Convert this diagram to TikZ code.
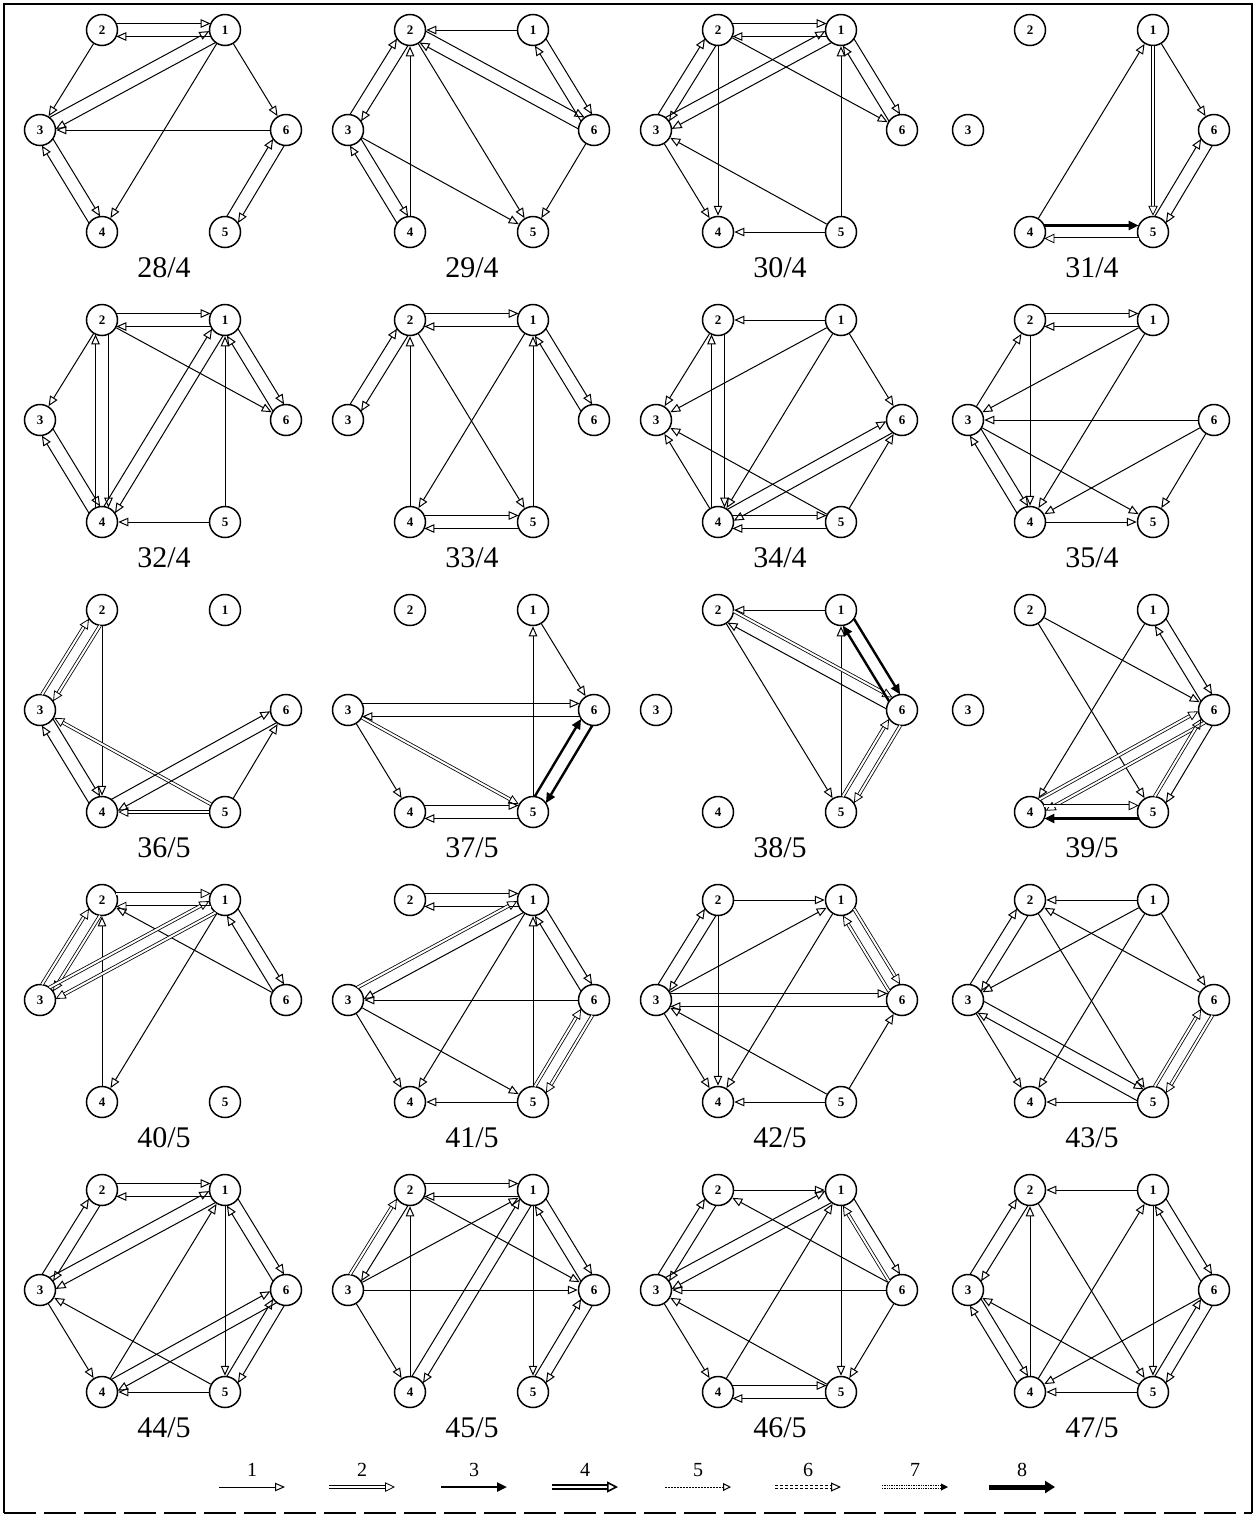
\documentclass[tikz,border=0pt]{standalone}
\usepackage{fontspec}
\setmainfont{Liberation Serif}
\usetikzlibrary{arrows.meta,calc}

\tikzset{
  vtx/.style={draw=black,fill=white,circle,line width=1.5pt,minimum size=31pt,inner sep=0pt,
    font=\bfseries\fontsize{13}{13}\selectfont},
  glabel/.style={font=\fontsize{30}{30}\selectfont},
  legnum/.style={font=\fontsize{20}{20}\selectfont},
  e1/.style={draw=black,line width=1pt,-{Triangle[open,length=10pt,width=8.5pt]}},
  e2/.style={draw=black,line width=0.8pt,double=white,double distance=2pt,-{Triangle[open,length=10pt,width=9.5pt]}},
  e3/.style={draw=black,line width=2.4pt,-{Triangle[length=10pt,width=9pt]}},
  e4/.style={draw=black,line width=1.6pt,double=white,double distance=2.4pt,-{Triangle[open,length=11pt,width=11pt]}},
  e5/.style={draw=black,line width=1pt,dash pattern=on 1.5pt off 1.5pt,-{Triangle[open,length=8pt,width=8pt]}},
  e6/.style={draw=black,line width=1pt,double=white,double distance=2pt,dash pattern=on 3pt off 2pt,-{Triangle[open,length=10pt,width=9pt]}},
  e7/.style={draw=black,line width=1pt,double=white,double distance=1.8pt,dash pattern=on 1pt off 0.7pt,-{Triangle[length=7pt,width=7pt]}},
  e8/.style={draw=black,line width=5pt,-{Triangle[length=10pt,width=12pt]}}
}

% six vertices of one graph, #1 name, (#2,#3) place of vertex 2, #4 caption
\newcommand{\hexgraph}[4]{%
  \begin{scope}[shift={(#2,#3)}]
    \node[vtx] (#1-2) at (0,0) {2};
    \node[vtx] (#1-1) at (123,0) {1};
    \node[vtx] (#1-3) at (-62,-100) {3};
    \node[vtx] (#1-6) at (184,-100) {6};
    \node[vtx] (#1-4) at (0,-202) {4};
    \node[vtx] (#1-5) at (123,-202) {5};
    \node[glabel] (#1-t) at (62,-238) {#4};
  \end{scope}}
% single edge, and one edge of a two-way pair (moved to its left)
\newcommand{\sedge}[3][e1]{\path[#1] (#2) -- (#3);}
\newcommand{\pedge}[3][e1]{\path[#1,shorten <=14.3pt,shorten >=14.3pt]
  ($(#2)!6.5pt!90:(#3)$) -- ($(#3)!6.5pt!-90:(#2)$);}

\begin{document}
\begin{tikzpicture}[x=1pt,y=1pt]
\useasboundingbox (0,0) rectangle (1256,-1519);
% frame:
\path[draw=black,line width=1.6pt] (4,-1513) -- (4,-4) -- (1252,-4) -- (1252,-1513);
\path[draw=black,line width=1.6pt,dash pattern=on 32pt off 8pt] (4,-1513) -- (1252,-1513);

% graph 28/4:
\hexgraph{g28}{102}{-30}{28/4}
\foreach \p/\q in {2/3,6/3,1/6,1/4} {\sedge{g28-\p}{g28-\q}}
\foreach \p/\q in {2/1,1/2,3/1,1/3,3/4,4/3,5/6,6/5} {\pedge{g28-\p}{g28-\q}}

% graph 29/4:
\hexgraph{g29}{410}{-30}{29/4}
\foreach \p/\q in {1/2,2/5,4/2,3/5,6/5} {\sedge{g29-\p}{g29-\q}}
\foreach \p/\q in {2/6,6/2,1/6,6/1,3/2,2/3,3/4,4/3} {\pedge{g29-\p}{g29-\q}}

% graph 30/4:
\hexgraph{g30}{718}{-30}{30/4}
\foreach \p/\q in {2/6,2/4,3/4,5/3,5/1,5/4} {\sedge{g30-\p}{g30-\q}}
\foreach \p/\q in {2/1,1/2,3/1,1/3,1/6,6/1,3/2,2/3} {\pedge{g30-\p}{g30-\q}}

% graph 31/4:
\hexgraph{g31}{1030}{-30}{31/4}
\foreach \p/\q in {4/1,1/6} {\sedge{g31-\p}{g31-\q}}
\sedge[e2]{g31-1}{g31-5}
\foreach \p/\q in {5/6,6/5} {\pedge{g31-\p}{g31-\q}}
\pedge[e3]{g31-4}{g31-5}
\pedge[e2]{g31-5}{g31-4}

% graph 32/4:
\hexgraph{g32}{102}{-320}{32/4}
\foreach \p/\q in {2/6,2/3,5/1,5/4} {\sedge{g32-\p}{g32-\q}}
\foreach \p/\q in {2/1,1/2,1/6,6/1,3/4,4/3,2/4,4/2,1/4,4/1} {\pedge{g32-\p}{g32-\q}}

% graph 33/4:
\hexgraph{g33}{410}{-320}{33/4}
\foreach \p/\q in {4/2,2/5,1/4,5/1} {\sedge{g33-\p}{g33-\q}}
\foreach \p/\q in {2/1,1/2,3/2,2/3,4/5,5/4,1/6,6/1} {\pedge{g33-\p}{g33-\q}}

% graph 34/4:
\hexgraph{g34}{718}{-320}{34/4}
\foreach \p/\q in {1/2,1/3,1/4,1/6,2/3,4/3,5/3,5/6} {\sedge{g34-\p}{g34-\q}}
\foreach \p/\q in {2/4,4/2,4/5,5/4,4/6,6/4} {\pedge{g34-\p}{g34-\q}}

% graph 35/4:
\hexgraph{g35}{1030}{-320}{35/4}
\foreach \p/\q in {1/3,3/2,1/4,2/4,6/3,6/4,6/5,3/5,4/5} {\sedge{g35-\p}{g35-\q}}
\foreach \p/\q in {2/1,1/2,3/4,4/3} {\pedge{g35-\p}{g35-\q}}

% graph 36/5:
\hexgraph{g36}{102}{-610}{36/5}
\foreach \p/\q in {2/4,5/6} {\sedge{g36-\p}{g36-\q}}
\foreach \p/\q in {5/3,5/4} {\sedge[e2]{g36-\p}{g36-\q}}
\foreach \p/\q in {3/2,2/3} {\pedge[e2]{g36-\p}{g36-\q}}
\foreach \p/\q in {3/4,4/3,4/6,6/4} {\pedge{g36-\p}{g36-\q}}

% graph 37/5:
\hexgraph{g37}{410}{-610}{37/5}
\foreach \p/\q in {5/1,1/6,3/4} {\sedge{g37-\p}{g37-\q}}
\sedge[e2]{g37-3}{g37-5}
\foreach \p/\q in {3/6,6/3,4/5,5/4} {\pedge{g37-\p}{g37-\q}}
\foreach \p/\q in {5/6,6/5} {\pedge[e3]{g37-\p}{g37-\q}}

% graph 38/5:
\hexgraph{g38}{718}{-610}{38/5}
\foreach \p/\q in {1/2,2/5,5/1} {\sedge{g38-\p}{g38-\q}}
\pedge[e2]{g38-2}{g38-6}
\pedge{g38-6}{g38-2}
\foreach \p/\q in {1/6,6/1} {\pedge[e3]{g38-\p}{g38-\q}}
\foreach \p/\q in {5/6,6/5} {\pedge[e2]{g38-\p}{g38-\q}}

% graph 39/5:
\hexgraph{g39}{1030}{-610}{39/5}
\foreach \p/\q in {2/6,2/5,1/4} {\sedge{g39-\p}{g39-\q}}
\foreach \p/\q in {1/6,6/1,6/5} {\pedge{g39-\p}{g39-\q}}
\foreach \p/\q in {4/6,6/4,5/6,4/5} {\pedge[e2]{g39-\p}{g39-\q}}
\pedge[e3]{g39-5}{g39-4}

% graph 40/5:
\hexgraph{g40}{102}{-900}{40/5}
\foreach \p/\q in {4/2,1/4,6/2} {\sedge{g40-\p}{g40-\q}}
\foreach \p/\q in {2/1,1/2,3/2,2/3,3/1,1/3} {\pedge[e2]{g40-\p}{g40-\q}}
\foreach \p/\q in {1/6,6/1} {\pedge{g40-\p}{g40-\q}}

% graph 41/5:
\hexgraph{g41}{410}{-900}{41/5}
\foreach \p/\q in {1/4,5/1,6/3,3/5,3/4,5/4} {\sedge{g41-\p}{g41-\q}}
\foreach \p/\q in {2/1,1/2,1/3,1/6,6/1} {\pedge{g41-\p}{g41-\q}}
\foreach \p/\q in {3/1,5/6,6/5} {\pedge[e2]{g41-\p}{g41-\q}}

% graph 42/5:
\hexgraph{g42}{718}{-900}{42/5}
\foreach \p/\q in {2/1,3/1,2/4,1/4,3/4,5/3,5/6,5/4} {\sedge{g42-\p}{g42-\q}}
\foreach \p/\q in {3/2,2/3,3/6,6/3} {\pedge{g42-\p}{g42-\q}}
\foreach \p/\q in {1/6,6/1} {\pedge[e2]{g42-\p}{g42-\q}}

% graph 43/5:
\hexgraph{g43}{1030}{-900}{43/5}
\foreach \p/\q in {1/2,1/3,1/4,1/6,6/2,2/5,3/4,5/4} {\sedge{g43-\p}{g43-\q}}
\foreach \p/\q in {3/2,2/3,3/5,5/3} {\pedge{g43-\p}{g43-\q}}
\foreach \p/\q in {5/6,6/5} {\pedge[e2]{g43-\p}{g43-\q}}

% graph 44/5:
\hexgraph{g44}{102}{-1190}{44/5}
\foreach \p/\q in {4/1,1/5,3/4,5/3,5/4} {\sedge{g44-\p}{g44-\q}}
\foreach \p/\q in {2/1,1/2,3/2,2/3,3/1,1/3,1/6,6/1,4/6,6/4,5/6,6/5} {\pedge{g44-\p}{g44-\q}}

% graph 45/5:
\hexgraph{g45}{410}{-1190}{45/5}
\foreach \p/\q in {4/2,3/4,3/1,2/6,3/6,1/5} {\sedge{g45-\p}{g45-\q}}
\foreach \p/\q in {2/1,1/2,2/3,4/1,1/4,1/6,6/1,5/6,6/5} {\pedge{g45-\p}{g45-\q}}
\pedge[e2]{g45-3}{g45-2}

% graph 46/5:
\hexgraph{g46}{718}{-1190}{46/5}
\foreach \p/\q in {2/1,4/1,6/2,6/3,1/5,6/5,3/4,5/3} {\sedge{g46-\p}{g46-\q}}
\foreach \p/\q in {3/1,1/3,3/2,2/3,1/6,4/5,5/4} {\pedge{g46-\p}{g46-\q}}
\pedge[e2]{g46-6}{g46-1}

% graph 47/5:
\hexgraph{g47}{1030}{-1190}{47/5}
\foreach \p/\q in {1/2,4/1,1/5,2/5,4/2,5/3,6/4,5/4} {\sedge{g47-\p}{g47-\q}}
\foreach \p/\q in {1/6,6/1,3/2,2/3,3/4,4/3,5/6,6/5} {\pedge{g47-\p}{g47-\q}}

% key of line kinds:
\foreach \k/\x in {1/252,2/362,3/474,4/585,5/698,6/808,7/915,8/1022} {
  \coordinate (ka\k) at (\x-33,-1487);
  \coordinate (kb\k) at (\x+33,-1487);
  \node[legnum] (kn\k) at (\x,-1470) {\k};
}
\path[e1] (ka1) -- (kb1);
\path[e2] (ka2) -- (kb2);
\path[e3] (ka3) -- (kb3);
\path[e4] (ka4) -- (kb4);
\path[e5] (ka5) -- (kb5);
\path[e6] (ka6) -- (kb6);
\path[e7] (ka7) -- (kb7);
\path[e8] (ka8) -- (kb8);
\end{tikzpicture}
\end{document}
